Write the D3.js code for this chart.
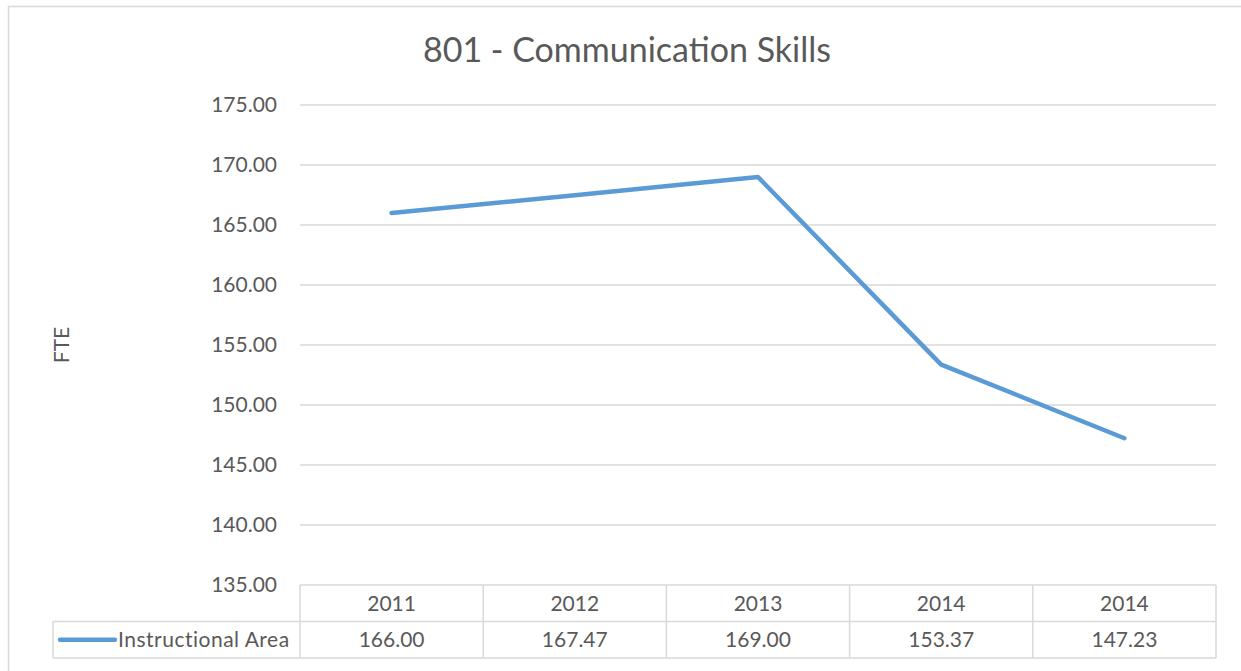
<!DOCTYPE html>
<html>
<head>
<meta charset="utf-8">
<script src="https://cdn.jsdelivr.net/npm/d3@7"></script>
<style>
  html, body { margin: 0; padding: 0; background: #fff; }
  svg { display: block; }
  text { font-family: Lato, "Open Sans", "Liberation Sans", sans-serif; fill: #595959; }
</style>
</head>
<body>
<svg id="chart" width="1241" height="671"></svg>
<script>
const title = "801 - Communication Skills";
const yTitle = "FTE";
const seriesName = "Instructional Area";
const categories = ["2011", "2012", "2013", "2014", "2014"];
const values = [166.00, 167.47, 169.00, 153.37, 147.23];
const yTicks = [135, 140, 145, 150, 155, 160, 165, 170, 175];

const svg = d3.select("#chart");
const W = 1241, H = 671;
const plot = { left: 300, right: 1216, top: 105, bottom: 585 };
const rowH = 36.5;

// outer chart border
svg.append("rect").attr("x", 8.5).attr("y", 6.5).attr("width", W + 20).attr("height", H + 20)
  .attr("fill", "#fff").attr("stroke", "#d9d9d9").attr("stroke-width", 1.5);

const x = d3.scaleBand().domain(d3.range(categories.length)).range([plot.left, plot.right]).padding(0);
const y = d3.scaleLinear().domain([135, 175]).range([plot.bottom, plot.top]);

// gridlines
svg.append("g").selectAll("line").data(yTicks.slice(1)).join("line")
  .attr("x1", plot.left).attr("x2", plot.right)
  .attr("y1", d => y(d)).attr("y2", d => y(d))
  .attr("stroke", "#d9d9d9").attr("stroke-width", 1.3);

// y tick labels
svg.append("g").selectAll("text").data(yTicks).join("text")
  .attr("x", 277).attr("y", d => y(d)).attr("dy", "0.35em")
  .attr("text-anchor", "end").attr("font-size", 21)
  .text(d => d3.format(".2f")(d));

// title
svg.append("text").attr("x", 627).attr("y", 62).attr("text-anchor", "middle")
  .attr("font-size", 34).text(title);

// y axis title
svg.append("text").attr("transform", `translate(69,345) rotate(-90)`)
  .attr("text-anchor", "middle").attr("font-size", 21).text(yTitle);

// data table
const tbl = svg.append("g").attr("stroke", "#d9d9d9").attr("stroke-width", 1.5).attr("fill", "none");
const tTop = plot.bottom, tMid = plot.bottom + rowH, tBot = plot.bottom + 2 * rowH;
tbl.append("line").attr("x1", plot.left).attr("x2", plot.right).attr("y1", tTop).attr("y2", tTop);
tbl.append("line").attr("x1", 53).attr("x2", plot.right).attr("y1", tMid).attr("y2", tMid);
tbl.append("line").attr("x1", 53).attr("x2", plot.right).attr("y1", tBot).attr("y2", tBot);
tbl.append("line").attr("x1", 53).attr("x2", 53).attr("y1", tMid).attr("y2", tBot);
const seps = d3.range(categories.length).map(i => x(i)).concat([plot.right]);
tbl.selectAll("line.sep").data(seps).join("line").attr("class", "sep")
  .attr("x1", d => d).attr("x2", d => d).attr("y1", tTop).attr("y2", tBot);

svg.append("g").selectAll("text").data(categories).join("text")
  .attr("x", (d, i) => x(i) + x.bandwidth() / 2).attr("y", tTop + rowH / 2).attr("dy", "0.35em")
  .attr("text-anchor", "middle").attr("font-size", 21).text(d => d);
svg.append("g").selectAll("text").data(values).join("text")
  .attr("x", (d, i) => x(i) + x.bandwidth() / 2).attr("y", tMid + rowH / 2).attr("dy", "0.35em")
  .attr("text-anchor", "middle").attr("font-size", 21).text(d => d3.format(".2f")(d));

// legend key in table
svg.append("line").attr("x1", 60).attr("x2", 115).attr("y1", tMid + rowH / 2).attr("y2", tMid + rowH / 2)
  .attr("stroke", "#5b9bd5").attr("stroke-width", 4.5).attr("stroke-linecap", "round");
svg.append("text").attr("x", 118).attr("y", tMid + rowH / 2).attr("dy", "0.35em")
  .attr("font-size", 21).attr("letter-spacing", 0.5).text(seriesName);

// line
const line = d3.line().x((d, i) => x(i) + x.bandwidth() / 2).y(d => y(d));
svg.append("path").datum(values).attr("d", line)
  .attr("fill", "none").attr("stroke", "#5b9bd5").attr("stroke-width", 4.5)
  .attr("stroke-linejoin", "round").attr("stroke-linecap", "round");
</script>
</body>
</html>
